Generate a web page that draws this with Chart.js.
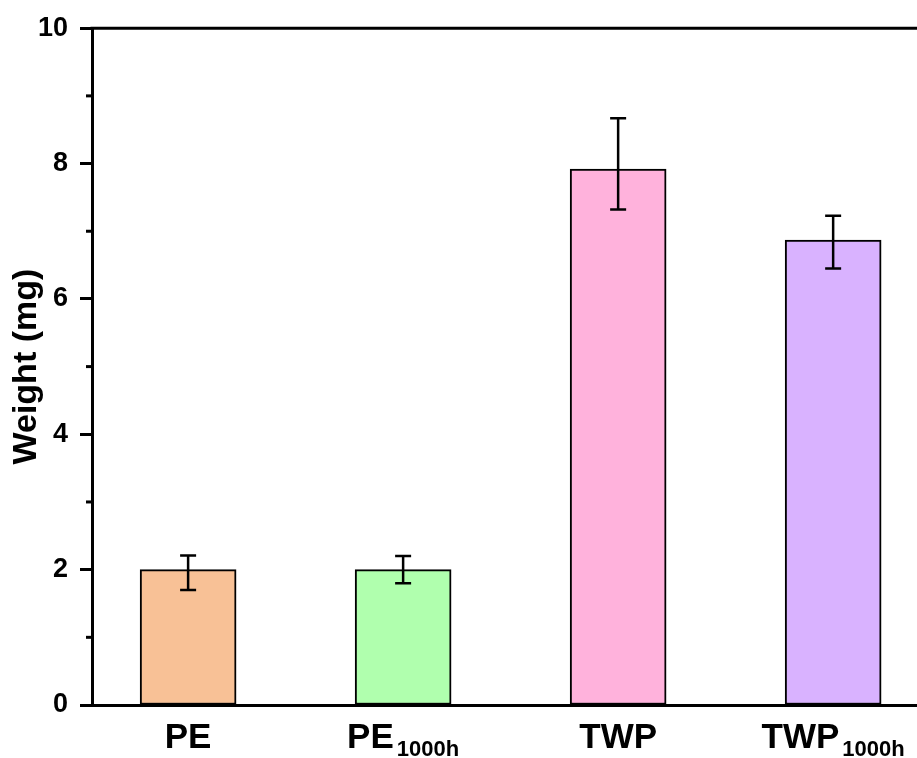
<!DOCTYPE html>
<html>
<head>
<meta charset="utf-8">
<script src="https://cdn.jsdelivr.net/npm/chart.js@4.4.1/dist/chart.umd.min.js"></script>
<style>
  html, body { margin: 0; padding: 0; background: #ffffff; overflow: hidden; }
  #wrap { width: 917px; height: 758px; position: relative; }
</style>
</head>
<body>
<div id="wrap"><canvas id="chart" width="917" height="758"></canvas></div>
<script>
// Sample names (main text + subscript)
const sampleNames = ['PE', 'PE', 'TWP', 'TWP'];
const sampleSubs = ['', '1000h', '', '1000h'];
// Mean weight (mg)
const weights = [2.0, 2.0, 7.92, 6.87];
// Error bar limits (mg)
const errHigh = [2.21, 2.20, 8.67, 7.23];
const errLow = [1.70, 1.80, 7.32, 6.45];
// Bar fill colours
const barColors = ['#F8C196', '#B0FFAE', '#FFB2DC', '#D9B2FF'];
// Y axis tick values
const yTicks = [0, 2, 4, 6, 8, 10];

const FONT = '"Liberation Sans", Arial, Helvetica, sans-serif';

const points = weights.map((w, i) => ({ x: i + 1, y: w }));

// Error bars with caps
const errorBars = {
  id: 'errorBars',
  afterDatasetsDraw(chart) {
    const ctx = chart.ctx;
    const y = chart.scales.y;
    const meta = chart.getDatasetMeta(0);
    ctx.save();
    ctx.strokeStyle = '#000';
    ctx.lineWidth = 2.5;
    meta.data.forEach((bar, i) => {
      const x = bar.x;
      const yh = y.getPixelForValue(errHigh[i]);
      const yl = y.getPixelForValue(errLow[i]);
      ctx.beginPath();
      ctx.moveTo(x, yh); ctx.lineTo(x, yl);
      ctx.moveTo(x - 8, yh); ctx.lineTo(x + 8, yh);
      ctx.moveTo(x - 8, yl); ctx.lineTo(x + 8, yl);
      ctx.stroke();
    });
    ctx.restore();
  }
};

// Top frame line, minor y ticks, and x labels with subscripts
const frameAndLabels = {
  id: 'frameAndLabels',
  afterDraw(chart) {
    const ctx = chart.ctx;
    const area = chart.chartArea;
    const y = chart.scales.y;
    const x = chart.scales.x;
    ctx.save();
    ctx.strokeStyle = '#000';
    ctx.lineWidth = 3;
    ctx.beginPath();
    ctx.moveTo(area.left - 1.5, area.top);
    ctx.lineTo(chart.width, area.top);
    ctx.stroke();
    // minor ticks at odd values
    for (let v = 1; v < 10; v += 2) {
      const py = y.getPixelForValue(v);
      ctx.beginPath();
      ctx.moveTo(area.left - 6, py);
      ctx.lineTo(area.left, py);
      ctx.stroke();
    }
    // category labels
    ctx.fillStyle = '#000';
    ctx.textBaseline = 'alphabetic';
    sampleNames.forEach((name, i) => {
      const cx = x.getPixelForValue(i + 1);
      ctx.font = 'bold 35px ' + FONT;
      const w1 = ctx.measureText(name).width;
      let w2 = 0, gap = 0;
      if (sampleSubs[i]) {
        ctx.font = 'bold 22px ' + FONT;
        w2 = ctx.measureText(sampleSubs[i]).width;
        gap = 3;
      }
      const start = cx - (w1 + gap + w2) / 2;
      ctx.font = 'bold 35px ' + FONT;
      ctx.textAlign = 'left';
      ctx.fillText(name, start, 748);
      if (sampleSubs[i]) {
        ctx.font = 'bold 22px ' + FONT;
        ctx.fillText(sampleSubs[i], start + w1 + gap, 756);
      }
    });
    ctx.restore();
  }
};

new Chart(document.getElementById('chart'), {
  type: 'bar',
  data: {
    datasets: [{
      data: points,
      backgroundColor: barColors,
      borderColor: '#000',
      borderWidth: 2,
      borderSkipped: false,
      barThickness: 96
    }]
  },
  options: {
    responsive: false,
    animation: false,
    devicePixelRatio: 1,
    layout: { padding: { top: 28, right: 0, left: 0, bottom: 0 } },
    plugins: { legend: { display: false }, tooltip: { enabled: false } },
    scales: {
      x: {
        type: 'linear',
        offset: false,
        min: 0.553,
        max: 4.39,
        grid: { display: false, drawTicks: false },
        ticks: { display: false },
        border: { display: true, color: '#000', width: 3 },
        afterFit(scale) { scale.height = 53; }
      },
      y: {
        min: 0,
        max: 10,
        afterBuildTicks(scale) { scale.ticks = yTicks.map(v => ({ value: v })); },
        ticks: {
          color: '#000',
          font: { family: FONT, size: 27, weight: 'bold' },
          padding: 12
        },
        grid: {
          drawOnChartArea: false,
          drawTicks: true,
          tickLength: 12,
          tickWidth: 3,
          tickColor: '#000'
        },
        border: { display: true, color: '#000', width: 3 },
        title: {
          display: true,
          text: 'Weight (mg)',
          color: '#000',
          font: { family: FONT, size: 34, weight: 'bold' },
          padding: { top: 6, bottom: 0 }
        },
        afterFit(scale) { scale.width = 92; }
      }
    }
  },
  plugins: [errorBars, frameAndLabels]
});
</script>
</body>
</html>
